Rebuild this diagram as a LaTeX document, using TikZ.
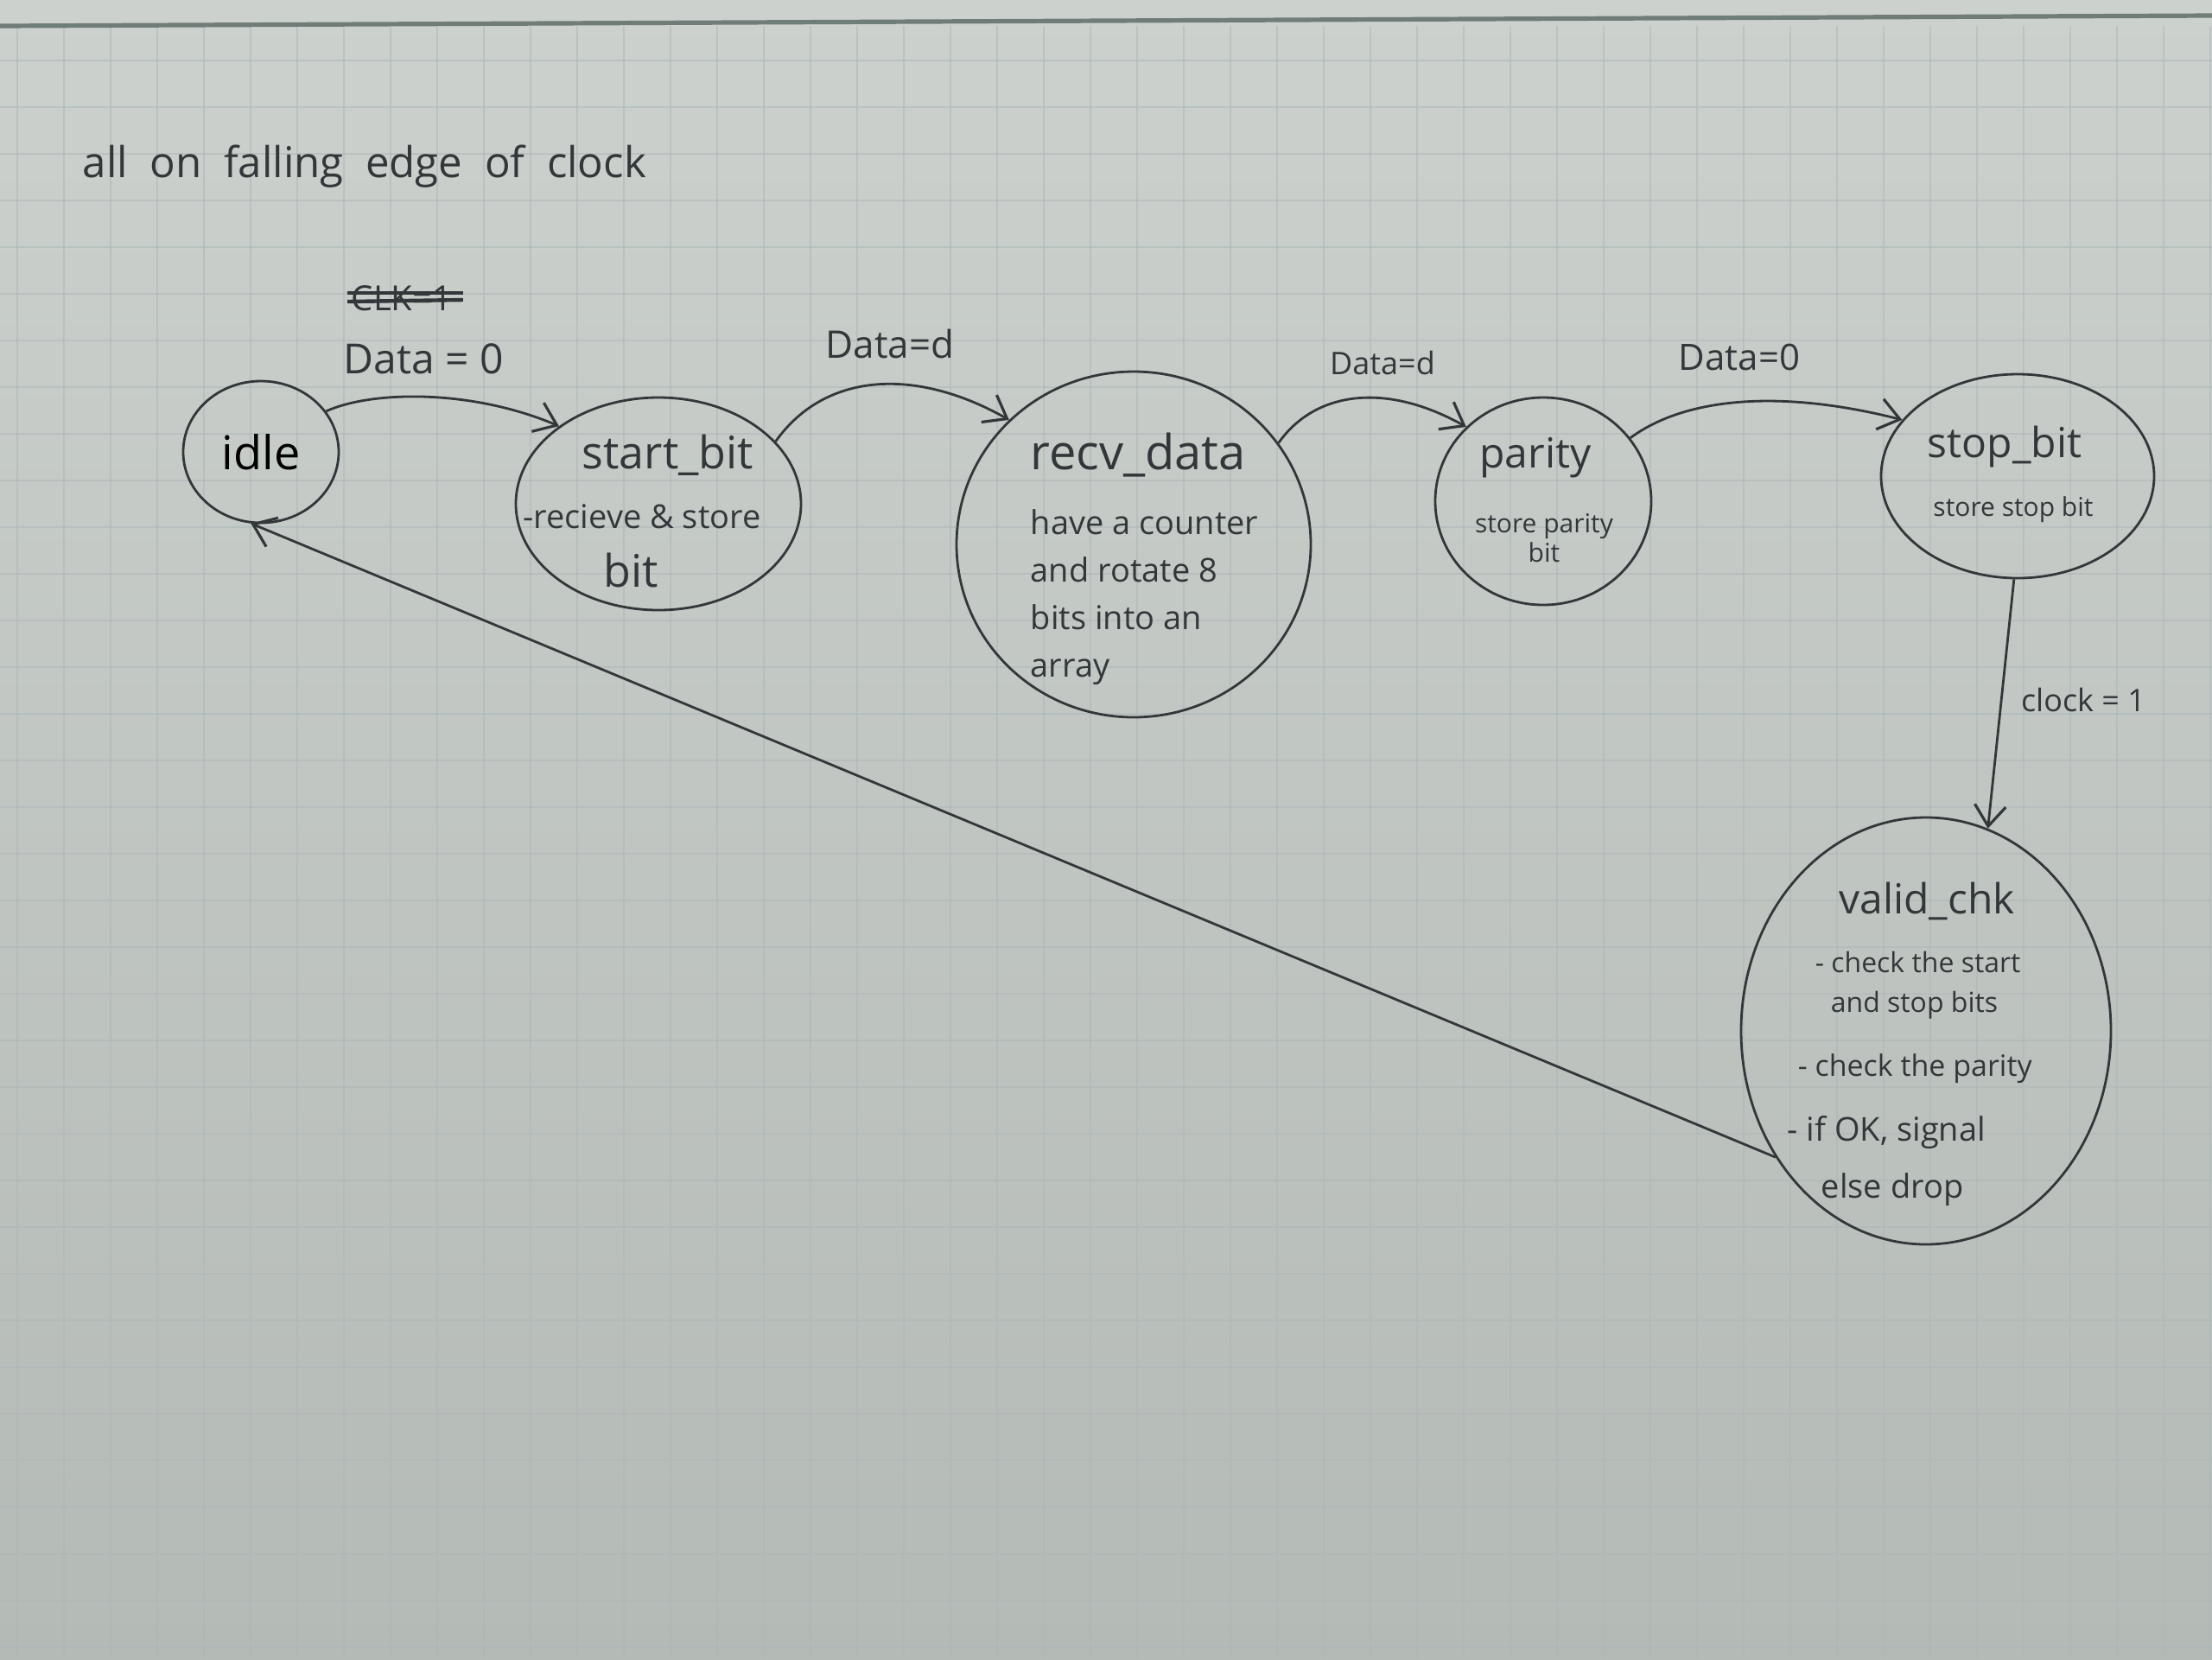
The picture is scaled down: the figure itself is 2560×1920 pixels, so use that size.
\documentclass[tikz,border=0pt]{standalone}
\usepackage{fontspec}
\setmainfont{Open Sans}
\usetikzlibrary{shapes.geometric,arrows.meta}
\definecolor{papertop}{RGB}{204,209,205}
\definecolor{paperbot}{RGB}{180,186,181}
\definecolor{gridc}{RGB}{172,184,186}
\definecolor{edgec}{RGB}{112,124,120}
\definecolor{pencil}{RGB}{52,55,58}
\newcommand{\fs}[2]{\fontsize{#1}{#2}\selectfont}
\begin{document}
\begin{tikzpicture}[x=0.25pt,y=-0.25pt,
  state/.style={draw=pencil,line width=0.7pt,ellipse,inner sep=0pt},
  lbl/.style={text=pencil,inner sep=0pt},
  arr/.style={draw=pencil,line width=0.7pt,-{Straight Barb[length=6pt,width=9pt,line width=0.8pt]}},
  strike/.style={draw=pencil,line width=1.1pt},
  gridline/.style={draw=gridc,line width=0.4pt,opacity=0.55},
]
\useasboundingbox (0,0) rectangle (2560,1920);
% paper
\shade[top color=papertop,bottom color=paperbot] (0,0) rectangle (2560,1920);
\foreach \gx in {20,74,...,2560} \draw[gridline] (\gx,30) -- (\gx,1920);
\foreach \gy in {70,124,...,1920} \draw[gridline] (0,\gy) -- (2560,\gy);
\draw[edgec,line width=1.3pt] (0,30) -- (2560,18);

% title
\node[lbl,font=\fs{12.3}{15},anchor=west] (title) at (95,193) {all\ \ on\ \ falling\ \ edge\ \ of\ \ clock};

% states
\node[state,minimum width=45pt,minimum height=41pt,font=\fs{13.5}{16}] (idle) at (302,523) {idle};
\node[state,minimum width=82.5pt,minimum height=61.5pt] (start) at (762,583) {};
\node[state,minimum width=102.5pt,minimum height=100pt] (recv) at (1312,630) {};
\node[state,minimum width=62.5pt,minimum height=60pt] (parity) at (1786,580) {};
\node[state,minimum width=79pt,minimum height=59pt] (stop) at (2335,551) {};
\node[state,minimum width=107pt,minimum height=123.5pt] (valid) at (2229,1193) {};

% state texts
\node[lbl,font=\fs{13}{15}] (startT) at (773,527) {start\_bit};
\node[lbl,font=\fs{9.5}{11}] (startA) at (743,598) {-recieve \& store};
\node[lbl,font=\fs{13}{15}] (startB) at (730,660) {bit};

\node[lbl,font=\fs{14}{16}] (recvT) at (1317,527) {recv\_data};
\node[lbl,font=\fs{9.5}{13.75},align=left,anchor=west] (recvA) at (1192,691) {have a counter\\and rotate 8\\bits into an\\array};

\node[lbl,font=\fs{12}{14}] (parT) at (1777,530) {parity};
\node[lbl,font=\fs{7.5}{8.5},align=center] (parA) at (1787,623) {store parity\\bit};

\node[lbl,font=\fs{12}{14}] (stopT) at (2320,517) {stop\_bit};
\node[lbl,font=\fs{7.5}{9}] (stopA) at (2330,590) {store stop bit};

\node[lbl,font=\fs{12}{14}] (validT) at (2230,1043) {valid\_chk};
\node[lbl,font=\fs{8}{10},anchor=west] (v1) at (2100,1113) {- check the start};
\node[lbl,font=\fs{8}{10},anchor=west] (v2) at (2118,1163) {and stop bits};
\node[lbl,font=\fs{8.5}{10},anchor=west] (v3) at (2080,1237) {- check the parity};
\node[lbl,font=\fs{9.5}{11},anchor=west] (v4) at (2068,1310) {- if OK, signal};
\node[lbl,font=\fs{9.5}{11},anchor=west] (v5) at (2107,1377) {else drop};

% transition labels
\node[lbl,font=\fs{10}{12}] (clk) at (465,345) {CLK=1};
\draw[strike] ([xshift=-1pt,yshift=1.5pt]clk.west) -- ([xshift=3pt,yshift=1.5pt]clk.east);
\draw[strike] ([xshift=-1pt,yshift=-1pt]clk.west) -- ([xshift=3pt,yshift=-0.5pt]clk.east);
\node[lbl,font=\fs{12}{14}] (l1) at (490,415) {Data = 0};
\node[lbl,font=\fs{11}{13}] (l2) at (1030,398) {Data=d};
\node[lbl,font=\fs{9}{11}] (l3) at (1600,420) {Data=d};
\node[lbl,font=\fs{10.5}{12}] (l4) at (2013,413) {Data=0};
\node[lbl,font=\fs{9}{11}] (l5) at (2411,810) {clock = 1};

% transitions
\draw[arr] (idle.32) .. controls (430,452) and (545,450) .. (start.142);
\draw[arr] (start.28) .. controls (955,430) and (1060,425) .. (recv.135);
\draw[arr] (recv.35) .. controls (1520,455) and (1600,440) .. (parity.136);
\draw[arr] (parity.36) .. controls (1950,460) and (2060,450) .. (stop.154);
\draw[arr] (stop.268) -- (valid.73);
\draw[arr] (valid.220) -- (idle.262);
\end{tikzpicture}
\end{document}
